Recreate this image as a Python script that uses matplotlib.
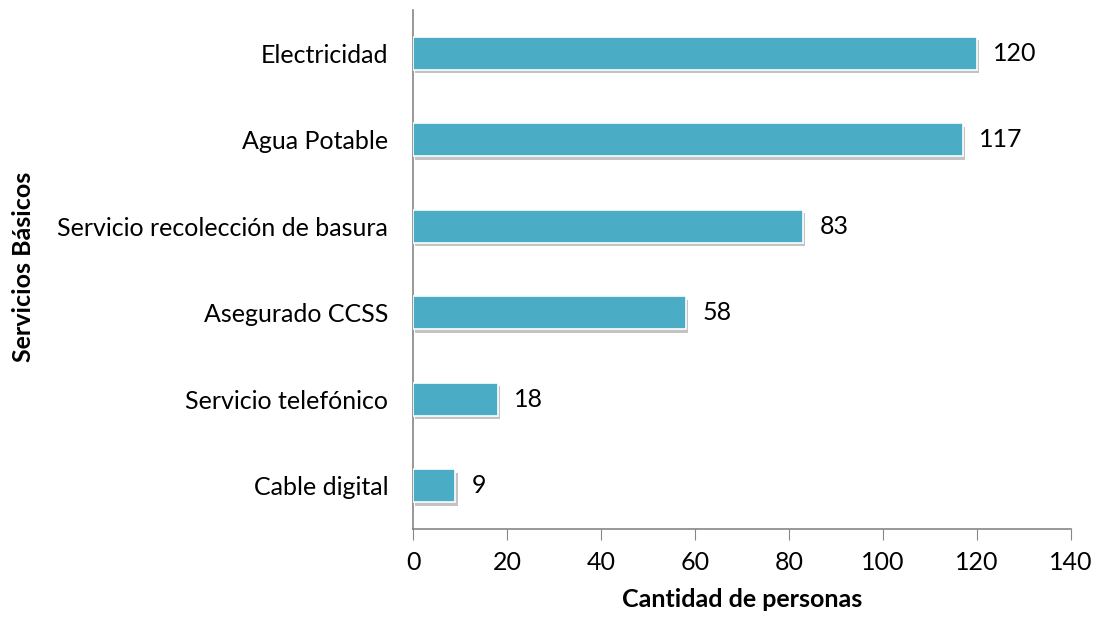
import matplotlib.pyplot as plt
import matplotlib.patheffects as pe

plt.rcParams['font.family'] = ['Lato', 'DejaVu Sans']

categories = ["Electricidad", "Agua Potable", "Servicio recolección de basura",
              "Asegurado CCSS", "Servicio telefónico", "Cable digital"]
values = [120, 117, 83, 58, 18, 9]
xticks = [0, 20, 40, 60, 80, 100, 120, 140]

FS = 18

fig = plt.figure(figsize=(10.96, 6.2), dpi=100)
ax = fig.add_axes([0.377, 0.147, 0.6, 0.837])

ypos = list(range(len(categories)))[::-1]
bars = ax.barh(ypos, values, height=0.38, color="#4BACC6",
               edgecolor="white", linewidth=1.2, zorder=3)
for b in bars:
    b.set_path_effects([pe.SimplePatchShadow(offset=(1.5, -2.5), shadow_rgbFace="#888888", alpha=0.5),
                        pe.Normal()])

for y, v in zip(ypos, values):
    ax.text(v + 3.5, y, str(v), va="center", ha="left", fontsize=FS, color="black")

ax.set_xlim(0, 140)
ax.set_ylim(-0.5, len(categories) - 0.5)
ax.set_xticks(xticks)
ax.set_xticklabels([str(t) for t in xticks], fontsize=FS)
ax.set_yticks(ypos)
ax.set_yticklabels(categories, fontsize=FS)
ax.tick_params(axis="y", length=0, pad=18)
ax.tick_params(axis="x", direction="out", length=8, color="#868686", pad=8)

for s in ["top", "right"]:
    ax.spines[s].set_visible(False)
for s in ["left", "bottom"]:
    ax.spines[s].set_color("#868686")
    ax.spines[s].set_linewidth(1.2)

ax.set_xlabel("Cantidad de personas", fontsize=FS, fontweight="bold", labelpad=10)
fig.text(0.021, 0.57, "Servicios Básicos", rotation=90, fontsize=FS,
         fontweight="bold", va="center", ha="center")

fig.savefig("out.png", dpi=100)
